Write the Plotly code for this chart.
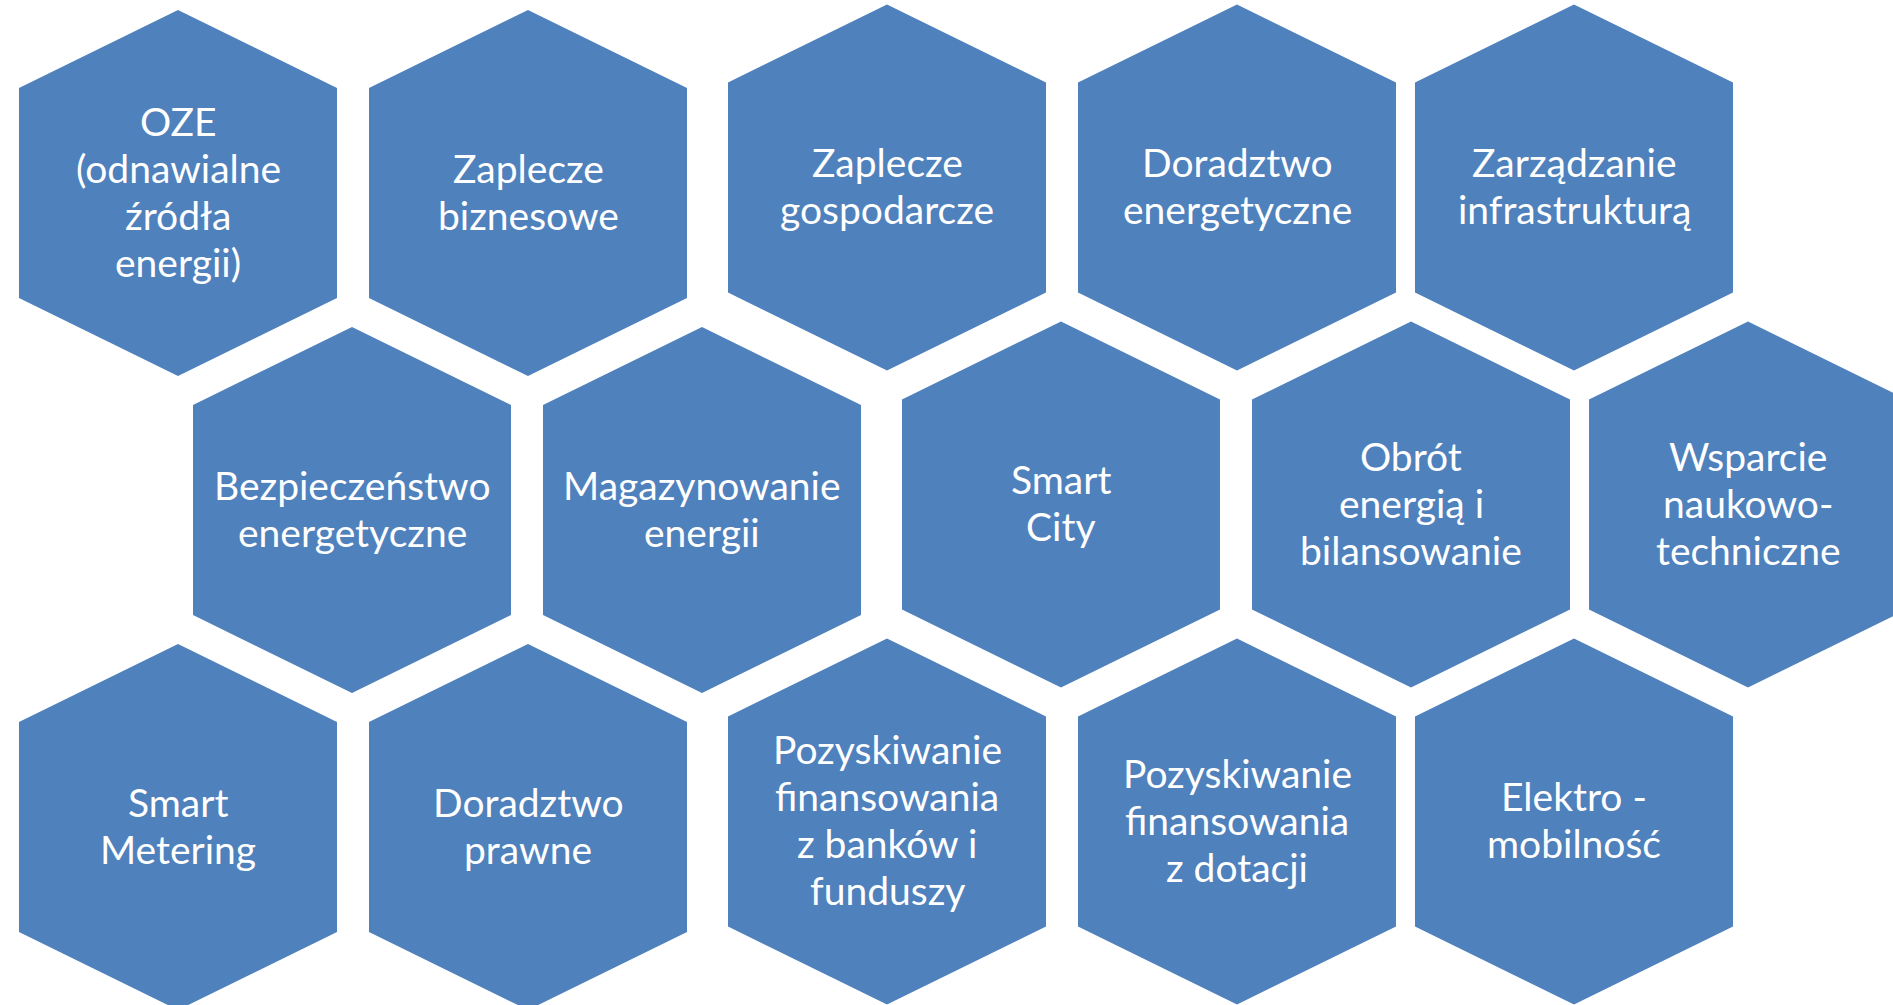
import plotly.graph_objects as go

# ---- data ----
labels = [
    "OZE<br>(odnawialne<br>źródła<br>energii)",
    "Zaplecze<br>biznesowe",
    "Zaplecze<br>gospodarcze",
    "Doradztwo<br>energetyczne",
    "Zarządzanie<br>infrastrukturą",
    "Bezpieczeństwo<br>energetyczne",
    "Magazynowanie<br>energii",
    "Smart<br>City",
    "Obrót<br>energią i<br>bilansowanie",
    "Wsparcie<br>naukowo-<br>techniczne",
    "Smart<br>Metering",
    "Doradztwo<br>prawne",
    "Pozyskiwanie<br>finansowania<br>z banków i<br>funduszy",
    "Pozyskiwanie<br>finansowania<br>z dotacji",
    "Elektro -<br>mobilność",
]
rows = [0, 0, 0, 0, 0, 1, 1, 1, 1, 1, 2, 2, 2, 2, 2]
cols = [0, 1, 2, 3, 4, 0, 1, 2, 3, 4, 0, 1, 2, 3, 4]

# ---- layout geometry (pixels) ----
W, H = 1893, 1005
col_x = [178, 528, 887, 1237, 1574]
row_shift_x = [0, 174, 0]
row_y = [193, 510, 827]
col_dy = [0, 0, -5.5, -5.5, -5.5]
HEX_W, HEX_H, SHOULDER = 318, 366, 78
LINE_GAP = 47
FILL = "#4F81BD"

fig = go.Figure()
for lab, r, c in zip(labels, rows, cols):
    x0 = col_x[c] + row_shift_x[r]
    y0 = row_y[r] + col_dy[c]
    hw, hh = HEX_W / 2, HEX_H / 2
    xs = [x0, x0 + hw, x0 + hw, x0, x0 - hw, x0 - hw, x0]
    ys = [y0 - hh, y0 - hh + SHOULDER, y0 + hh - SHOULDER, y0 + hh,
          y0 + hh - SHOULDER, y0 - hh + SHOULDER, y0 - hh]
    fig.add_trace(go.Scatter(x=xs, y=ys, fill="toself", fillcolor=FILL,
                             mode="lines", line=dict(width=0, color=FILL),
                             hoverinfo="skip", showlegend=False))
    lines = lab.split("<br>")
    n = len(lines)
    for i, t in enumerate(lines):
        fig.add_annotation(x=x0, y=y0 - 2 + (i - (n - 1) / 2) * LINE_GAP,
                           xref="x", yref="y", text=t, showarrow=False,
                           xanchor="center", yanchor="middle",
                           font=dict(family="Lato", size=39, color="white"))

fig.update_layout(
    width=W, height=H,
    margin=dict(l=0, r=0, t=0, b=0),
    paper_bgcolor="white", plot_bgcolor="white",
    xaxis=dict(range=[0, W], visible=False, fixedrange=True),
    yaxis=dict(range=[H, 0], visible=False, fixedrange=True),
)

fig.write_html("out.html", config={"displayModeBar": False},
               post_script="document.body.style.margin='0';document.body.style.overflow='hidden';")
